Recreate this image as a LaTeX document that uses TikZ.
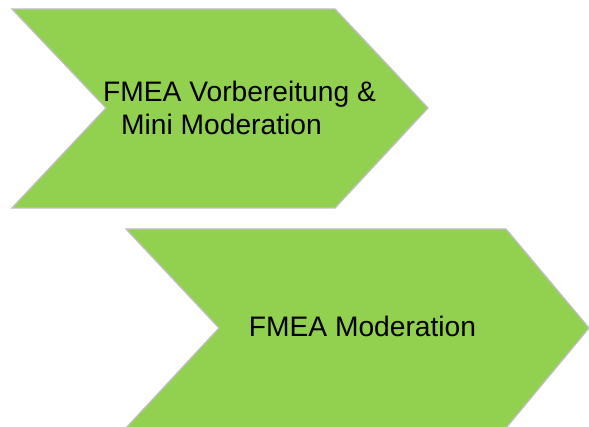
\documentclass[tikz,border=0pt]{standalone}
\usepackage{fontspec}
\setmainfont{Liberation Sans}
\usepackage{tikz}
\definecolor{stepgreen}{HTML}{92D050}
\definecolor{stepedge}{HTML}{BFBFBF}
\tikzset{
  chevron/.style = {draw = stepedge, line width = 1.3pt, fill = stepgreen, line join = miter},
  steptext/.style = {inner sep = 0pt, font = \fontsize{28.2}{33}\selectfont}
}
\begin{document}
\begin{tikzpicture}[x = 1pt, y = -1pt]
\useasboundingbox (0, 0) rectangle (589, 427);
%\draw[very thin, color = gray](0, 0) grid[step = 50] (589, 427);
\draw [chevron] (12, 9) -- (335, 9) -- (428, 108) -- (335, 208) -- (12, 208) -- (106, 108) -- cycle;
\draw [chevron] (126, 229) -- (506, 229) -- (589, 328) -- (506, 428) -- (126, 428) -- (219, 328) -- cycle;
\node [steptext, anchor = base west] (prep1) at (103, 102) {FMEA Vorbereitung \&};
\node [steptext, anchor = base west] (prep2) at (121, 135) {Mini Moderation};
\node [steptext, anchor = base] (moder) at (362.5, 337) {FMEA Moderation};
\end{tikzpicture}
\end{document}
